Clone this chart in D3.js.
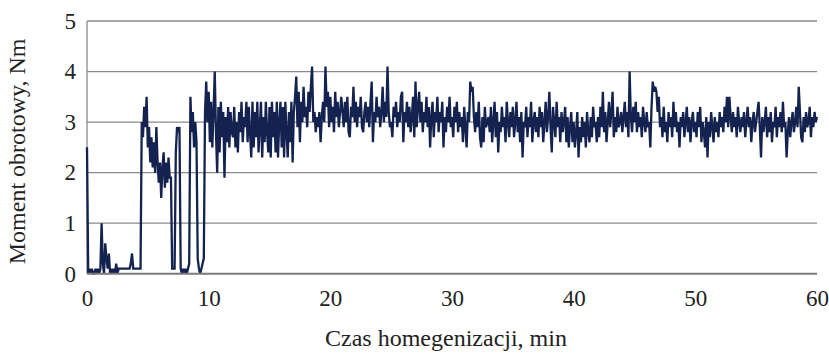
<!DOCTYPE html>
<html>
<head>
<meta charset="utf-8">
<script src="https://cdn.jsdelivr.net/npm/d3@7/dist/d3.min.js"></script>
<style>
  html, body { margin: 0; padding: 0; background: #fff; }
  svg { display: block; }
  text { font-family: "Liberation Serif", "Times New Roman", "DejaVu Serif", serif; fill: #222; }
</style>
</head>
<body>
<svg id="chart" width="829" height="353"></svg>
<script>
// Torque recorded during homogenisation, sampled every 0.1 min (one row = 1 min)
const sampleStep = 0.1;
const torque = [
  2.5, 0.0, 0.1, 0.0, 0.1, 0.0, 0.0, 0.1, 0.0, 0.1,
  0.0, 0.1, 1.0, 0.2, 0.0, 0.6, 0.3, 0.1, 0.4, 0.0,
  0.1, 0.0, 0.1, 0.0, 0.2, 0.0, 0.1, 0.1, 0.1, 0.1,
  0.1, 0.1, 0.1, 0.1, 0.1, 0.1, 0.2, 0.4, 0.1, 0.1,
  0.1, 0.1, 0.1, 0.1, 0.1, 3.0, 2.7, 3.3, 2.9, 3.5,
  2.5, 2.9, 2.2, 2.7, 2.1, 2.6, 2.0, 2.9, 2.2, 1.8,
  2.2, 1.5, 2.1, 2.4, 1.7, 2.2, 1.8, 2.3, 1.9, 1.9,
  0.1, 0.1, 0.1, 2.4, 2.9, 2.8, 2.9, 0.1, 0.0, 0.1,
  0.0, 0.1, 0.0, 0.1, 0.2, 3.5, 2.8, 3.2, 2.5, 3.0,
  2.6, 0.3, 0.1, 0.0, 0.1, 0.2, 0.3, 3.2, 3.8, 3.0,
  3.6, 2.6, 3.4, 2.5, 3.2, 4.0, 2.8, 2.0, 3.3, 2.4,
  3.4, 2.7, 3.2, 1.9, 3.1, 2.6, 3.3, 2.5, 3.2, 2.8,
  2.7, 3.3, 2.5, 3.0, 2.4, 3.2, 2.8, 3.4, 2.6, 3.1,
  2.9, 3.4, 2.6, 3.3, 2.8, 2.3, 3.4, 2.5, 3.2, 2.7,
  3.4, 2.4, 2.9, 3.4, 2.3, 3.1, 2.6, 3.4, 2.8, 2.4,
  3.3, 2.3, 3.4, 2.7, 3.2, 2.4, 3.4, 2.3, 3.0, 3.4,
  2.5, 3.3, 2.3, 3.4, 2.8, 2.3, 3.2, 2.6, 3.4, 2.2,
  3.2, 3.5, 3.9, 2.9, 3.6, 2.6, 3.4, 3.0, 3.7, 3.1,
  3.3, 2.9, 3.6, 3.2, 3.7, 4.1, 3.0, 3.2, 2.8, 3.1,
  2.9, 3.2, 2.6, 3.1, 3.4, 3.0, 4.1, 3.3, 3.6, 2.9,
  3.5, 3.0, 3.3, 2.8, 3.6, 3.1, 3.4, 2.9, 3.2, 3.5,
  3.2, 2.9, 3.4, 3.0, 3.5, 2.8, 2.7, 3.3, 3.1, 3.7,
  3.0, 3.4, 2.9, 3.3, 3.1, 3.5, 2.9, 2.8, 3.2, 3.4,
  3.0, 3.3, 2.9, 3.4, 3.8, 2.6, 3.2, 3.0, 3.5, 3.1,
  3.3, 2.9, 3.2, 3.7, 3.0, 3.4, 3.1, 4.1, 3.2, 2.9,
  3.0, 2.7, 3.3, 3.1, 3.4, 2.9, 3.2, 3.0, 3.5, 3.6,
  2.6, 3.2, 3.0, 3.4, 2.9, 3.3, 2.8, 3.1, 3.5, 2.7,
  3.8, 2.9, 3.3, 3.6, 3.0, 3.4, 2.8, 3.2, 3.0, 3.5,
  2.9, 3.3, 2.5, 3.1, 3.4, 2.7, 3.2, 3.0, 3.5, 2.8,
  3.2, 3.0, 3.4, 2.5, 3.1, 2.8, 3.3, 3.0, 3.5, 2.9,
  3.1, 2.7, 3.3, 3.0, 3.4, 2.8, 3.2, 2.9, 3.1, 2.6,
  3.3, 2.9, 2.5, 3.2, 3.0, 3.8, 3.6, 3.7, 3.1, 2.8,
  3.2, 2.9, 3.4, 2.7, 2.5, 3.1, 2.6, 3.3, 2.9, 3.0,
  3.1, 2.8, 3.3, 2.6, 3.0, 3.4, 2.7, 3.2, 2.4, 3.0,
  2.8, 3.3, 2.9, 3.1, 2.6, 3.4, 3.0, 2.7, 3.2, 2.9,
  3.3, 2.7, 3.0, 3.4, 2.8, 3.1, 2.6, 3.2, 2.3, 3.0,
  2.9, 3.3, 2.7, 3.1, 2.9, 3.4, 2.6, 3.0, 3.2, 2.8,
  3.1, 2.7, 3.3, 2.9, 3.2, 2.6, 3.0, 3.4, 2.8, 3.1,
  3.6, 2.9, 2.4, 3.3, 3.0, 2.7, 3.4, 2.9, 3.1, 2.6,
  3.2, 2.8, 3.0, 3.3, 2.6, 3.1, 2.5, 2.9, 3.2, 2.6,
  3.0, 2.5, 2.8, 3.2, 2.3, 2.9, 2.6, 3.1, 2.7, 3.0,
  2.5, 3.2, 2.8, 2.6, 3.1, 2.7, 3.3, 2.9, 3.0, 2.6,
  3.1, 2.7, 3.3, 2.9, 3.6, 2.8, 3.2, 2.6, 3.0, 3.4,
  2.9, 3.2, 3.6, 2.7, 3.1, 2.8, 3.3, 2.9, 3.0, 3.2,
  2.8, 3.1, 3.4, 2.9, 3.2, 2.7, 4.0, 3.1, 2.8, 3.3,
  3.0, 3.4, 2.8, 3.2, 2.9, 3.1, 2.7, 3.3, 3.0, 2.8,
  3.2, 2.9, 3.0, 2.5, 3.3, 3.8, 3.6, 3.7, 3.6, 3.2,
  3.5, 2.9, 3.1, 2.7, 3.3, 2.8, 3.0, 2.6, 3.2, 2.9,
  3.1, 2.7, 3.4, 2.9, 3.2, 2.8, 3.0, 2.5, 3.1, 2.9,
  3.2, 2.7, 3.0, 3.3, 2.8, 3.1, 2.6, 3.0, 3.2, 2.8,
  3.0, 2.7, 3.2, 2.9, 3.3, 2.6, 3.0, 2.8, 2.5, 3.1,
  2.3, 3.0, 2.7, 3.2, 2.9, 2.6, 3.1, 2.8, 3.0, 2.7,
  3.2, 2.9, 3.1, 2.8, 3.3, 3.0, 3.5, 2.9, 3.5, 3.1,
  2.8, 3.2, 2.9, 3.1, 2.7, 3.3, 3.0, 2.8, 3.1, 2.9,
  3.2, 2.7, 3.0, 3.3, 2.9, 3.1, 2.6, 3.0, 3.2, 2.8,
  3.0, 3.2, 3.4, 2.9, 2.3, 3.1, 2.8, 3.0, 3.3, 2.7,
  3.1, 2.8, 3.2, 2.6, 3.0, 2.9, 3.3, 2.7, 3.1, 2.9,
  3.2, 2.8, 3.4, 2.9, 3.0, 2.3, 2.8, 3.1, 2.7, 3.0,
  3.2, 2.8, 3.0, 3.3, 2.9, 3.7, 3.2, 2.7, 2.6, 3.1,
  2.8, 3.2, 2.9, 3.0, 3.3, 2.7, 3.1, 2.9, 3.2, 3.0,
  3.1
];
const xTicks = [0, 10, 20, 30, 40, 50, 60];
const yTicks = [0, 1, 2, 3, 4, 5];
const xTitle = "Czas homegenizacji, min";
const yTitle = "Moment obrotowy, Nm";

const serif = "'Liberation Serif', 'Times New Roman', 'DejaVu Serif', serif";
const svg = d3.select("#chart");
const margin = { left: 87, right: 12, top: 21, bottom: 80 };
const width = 829, height = 353;

const x = d3.scaleLinear().domain([0, 60]).range([margin.left, width - margin.right]);
const y = d3.scaleLinear().domain([0, 5]).range([height - margin.bottom + 0.7, margin.top]);

// horizontal grid lines
svg.append("g")
  .selectAll("line")
  .data(yTicks.filter(d => d > 0))
  .join("line")
  .attr("x1", x(0)).attr("x2", x(60))
  .attr("y1", d => y(d)).attr("y2", d => y(d))
  .attr("stroke", "#8a8a8a").attr("stroke-width", 1.3);

// left axis line
svg.append("line")
  .attr("x1", x(0)).attr("x2", x(0))
  .attr("y1", y(5)).attr("y2", y(0))
  .attr("stroke", "#8a8a8a").attr("stroke-width", 1.3);

// y tick labels
const yAxis = d3.axisLeft(y).tickValues(yTicks).tickSize(0).tickPadding(11).tickFormat(d3.format("d"));
const gy = svg.append("g").attr("transform", `translate(${x(0)},0)`).call(yAxis);
gy.attr("font-family", serif);
gy.select(".domain").remove();
gy.selectAll("text")
  .style("font-family", serif)
  .attr("font-size", 23).attr("fill", "#222");

// x tick labels
const xAxis = d3.axisBottom(x).tickValues(xTicks).tickSize(0).tickPadding(16).tickFormat(d3.format("d"));
const gx = svg.append("g").attr("transform", `translate(0,${y(0)})`).call(xAxis);
gx.attr("font-family", serif);
gx.select(".domain").remove();
gx.selectAll("text")
  .style("font-family", serif)
  .attr("font-size", 23).attr("fill", "#222");

// torque trace
const line = d3.line()
  .x((d, i) => x(i * sampleStep))
  .y(d => y(d));

svg.append("path")
  .datum(torque)
  .attr("d", line)
  .attr("fill", "none")
  .attr("stroke", "#13224f")
  .attr("stroke-width", 2.3)
  .attr("stroke-linejoin", "miter");

// bottom axis line
svg.append("line")
  .attr("x1", x(0)).attr("x2", x(60))
  .attr("y1", y(0)).attr("y2", y(0))
  .attr("stroke", "#7a7a7a").attr("stroke-width", 2);

// axis titles
svg.append("text")
  .attr("x", (x(0) + x(60)) / 2 - 6)
  .attr("y", 346)
  .attr("text-anchor", "middle")
  .style("font-family", serif)
  .attr("font-size", 24)
  .text(xTitle);

svg.append("text")
  .attr("transform", `translate(25,${(y(0) + y(5)) / 2 + 4}) rotate(-90)`)
  .attr("text-anchor", "middle")
  .style("font-family", serif)
  .attr("font-size", 24)
  .text(yTitle);
</script>
</body>
</html>
